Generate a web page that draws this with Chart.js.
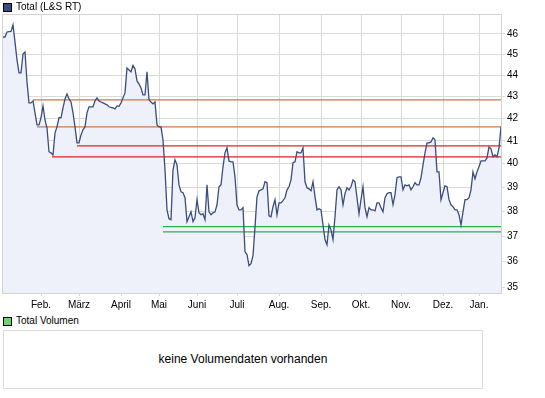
<!DOCTYPE html>
<html>
<head>
<meta charset="utf-8">
<script src="https://cdn.jsdelivr.net/npm/chart.js@4"></script>
<style>
  body { margin: 0; background: #fff; font-family: "Liberation Sans", Arial, sans-serif; }
  #wrap { position: relative; width: 545px; height: 398px; }
  #kurs { position: absolute; left: 0; top: 0; }
  .leg { position: absolute; left: 3px; font-size: 10px; color: #000; line-height: 10px; }
  .leg span { display: inline-block; width: 7px; height: 7px; border: 1px solid #000; vertical-align: top; margin: 1px 4px 0 0; }
  #volbox { position: absolute; left: 3px; top: 330px; width: 478px; height: 57px; border: 1px solid #dcdcdc;
            font-size: 12px; text-align: center; line-height: 57px; color: #000; }
</style>
</head>
<body>
<div id="wrap">
  <canvas id="kurs" width="545" height="315"></canvas>
  <div class="leg" style="top:2px"><span style="background:#3b4d7e"></span>Total (L&amp;S RT)</div>
  <div class="leg" style="top:316px"><span style="background:#6fd36f"></span>Total Volumen</div>
  <div id="volbox">keine Volumendaten vorhanden</div>
</div>
<script>
// Monate (Handelstag-Index, an dem der Monat beginnt)
const monthLabels = ['Feb.', 'März', 'April', 'Mai', 'Juni', 'Juli', 'Aug.', 'Sep.', 'Okt.', 'Nov.', 'Dez.', 'Jan.'];
const monthStarts = [19, 38, 59, 78, 97, 117, 138, 159, 179, 199, 220, 238];

// y-Achse
const yTicks = [35, 36, 37, 38, 39, 40, 41, 42, 43, 44, 45, 46];

// Schlusskurse pro Handelstag
const prices = [
  45.85, 45.85, 46.10, 46.12, 46.13, 46.45, 45.61, 44.73, 44.11, 44.11,
  45.02, 45.12, 43.68, 42.71, 42.71, 42.80, 42.25, 41.71, 41.71, 42.03,
  42.57, 41.93, 41.57, 40.52, 40.47, 40.38, 41.35, 41.62, 42.03, 42.03,
  42.48, 42.89, 43.12, 42.89, 42.75, 42.25, 41.62, 40.91, 40.91, 41.26,
  41.49, 41.62, 42.25, 42.53, 42.53, 42.53, 42.80, 42.94, 42.80, 42.75,
  42.71, 42.66, 42.62, 42.53, 42.50, 42.48, 42.43, 42.57, 42.55, 42.71,
  42.94, 43.17, 44.35, 44.25, 44.16, 44.47, 44.30, 43.73, 43.59, 43.40,
  43.08, 43.08, 44.16, 42.85, 42.75, 42.66, 42.75, 41.71, 41.62, 41.62,
  41.04, 39.74, 38.06, 37.70, 37.66, 39.74, 40.17, 39.95, 39.10, 38.81,
  38.77, 38.56, 37.58, 37.78, 37.98, 37.58, 37.74, 38.48, 37.94, 37.86,
  37.90, 37.66, 39.10, 37.98, 37.86, 37.94, 37.98, 38.27, 39.02, 39.10,
  39.87, 40.47, 40.69, 40.12, 40.08, 40.08, 39.44, 38.27, 38.06, 38.06,
  38.15, 36.38, 36.27, 35.84, 35.92, 36.23, 37.37, 38.60, 38.85, 38.89,
  38.93, 39.23, 39.19, 37.82, 37.78, 38.19, 38.48, 37.86, 38.35, 38.35,
  38.44, 38.56, 38.89, 39.02, 39.31, 40.04, 40.08, 40.52, 40.47, 40.47,
  40.69, 39.23, 38.98, 38.93, 38.85, 39.23, 38.60, 38.06, 38.11, 38.06,
  37.45, 36.86, 36.66, 37.45, 37.25, 36.86, 37.78, 38.89, 39.02, 38.89,
  38.27, 38.73, 38.98, 38.89, 39.02, 39.31, 39.23, 38.56, 37.90, 38.48,
  39.02, 38.15, 37.78, 38.15, 38.06, 38.06, 38.02, 38.35, 38.35, 38.15,
  37.98, 38.56, 38.73, 38.77, 38.77, 38.27, 38.68, 39.40, 39.44, 39.44,
  38.89, 39.10, 39.06, 39.10, 38.89, 39.02, 39.19, 39.10, 39.10, 39.40,
  39.95, 40.47, 40.91, 40.91, 40.95, 41.13, 41.04, 39.65, 39.65, 38.48,
  38.77, 39.06, 39.02, 38.48, 38.27, 38.19, 38.06, 38.06, 37.86, 37.45,
  37.98, 38.48, 38.48, 38.56, 38.89, 39.65, 39.35, 39.65, 39.87, 40.12,
  40.12, 40.12, 40.25, 40.73, 40.65, 40.30, 40.38, 40.30, 40.69, 41.62
];

// Widerstands-/Unterstützungslinien: Niveau und Start (Handelstag)
const levels = [42.85, 41.62, 40.78, 40.30, 37.38, 37.17];
const levelFrom = [15, 17, 37, 24.5, 80, 80];
const levelColors = ['#c47c52', '#c47c52', '#ec2222', '#e02020', '#2fae44', '#2fae44'];

const lastX = 249.5;

const frame = {
    id: 'frame',
    afterDraw(chart) {
        const a = chart.chartArea, c = chart.ctx;
        c.save();
        c.strokeStyle = '#d4d4d4';
        c.lineWidth = 1;
        c.strokeRect(Math.round(a.left) - 0.5, Math.round(a.top) + 0.5, Math.round(a.right - a.left), Math.round(a.bottom - a.top));
        c.restore();
    }
};

const datasets = [{
    label: 'Total (L&S RT)',
    data: prices.map((v, i) => ({ x: i, y: v })),
    borderColor: '#3b4d7e',
    backgroundColor: '#eef1f9',
    borderWidth: 1.3,
    pointRadius: 0,
    tension: 0,
    fill: 'start'
}];
levels.forEach((lv, k) => {
    datasets.push({
        data: [{ x: levelFrom[k], y: lv }, { x: lastX, y: lv }],
        borderColor: levelColors[k],
        borderWidth: 1.3,
        pointRadius: 0,
        fill: false
    });
});

const ctx = document.getElementById('kurs').getContext('2d');
const kursChart = new Chart(ctx, {
    type: 'line',
    data: { datasets: datasets },
    plugins: [frame],
    options: {
        responsive: false,
        animation: false,
        layout: { padding: { left: 3, top: 14, right: 0, bottom: 0 } },
        plugins: {
            legend: { display: false },
            tooltip: { enabled: false },
            filler: { drawTime: 'beforeDatasetsDraw' }
        },
        scales: {
            x: {
                type: 'linear',
                min: 0,
                max: lastX,
                afterBuildTicks: s => { s.ticks = monthStarts.map(v => ({ value: v })); },
                afterFit: s => { s.height = 22; },
                grid: { color: '#dadada', tickLength: 3 },
                border: { display: false },
                ticks: {
                    autoSkip: false,
                    maxRotation: 0,
                    padding: 3,
                    color: '#000',
                    font: { family: 'Liberation Sans', size: 10 },
                    callback: (v, i) => monthLabels[i]
                }
            },
            y: {
                type: 'logarithmic',
                position: 'right',
                min: 34.8,
                max: 47,
                afterBuildTicks: s => { s.ticks = yTicks.map(v => ({ value: v })); },
                afterFit: s => { s.width = 43; },
                grid: { color: '#dadada', tickLength: 3 },
                border: { display: false },
                ticks: {
                    padding: 2,
                    color: '#000',
                    font: { family: 'Liberation Sans', size: 10 },
                    callback: v => String(v)
                }
            }
        }
    }
});
</script>
</body>
</html>
